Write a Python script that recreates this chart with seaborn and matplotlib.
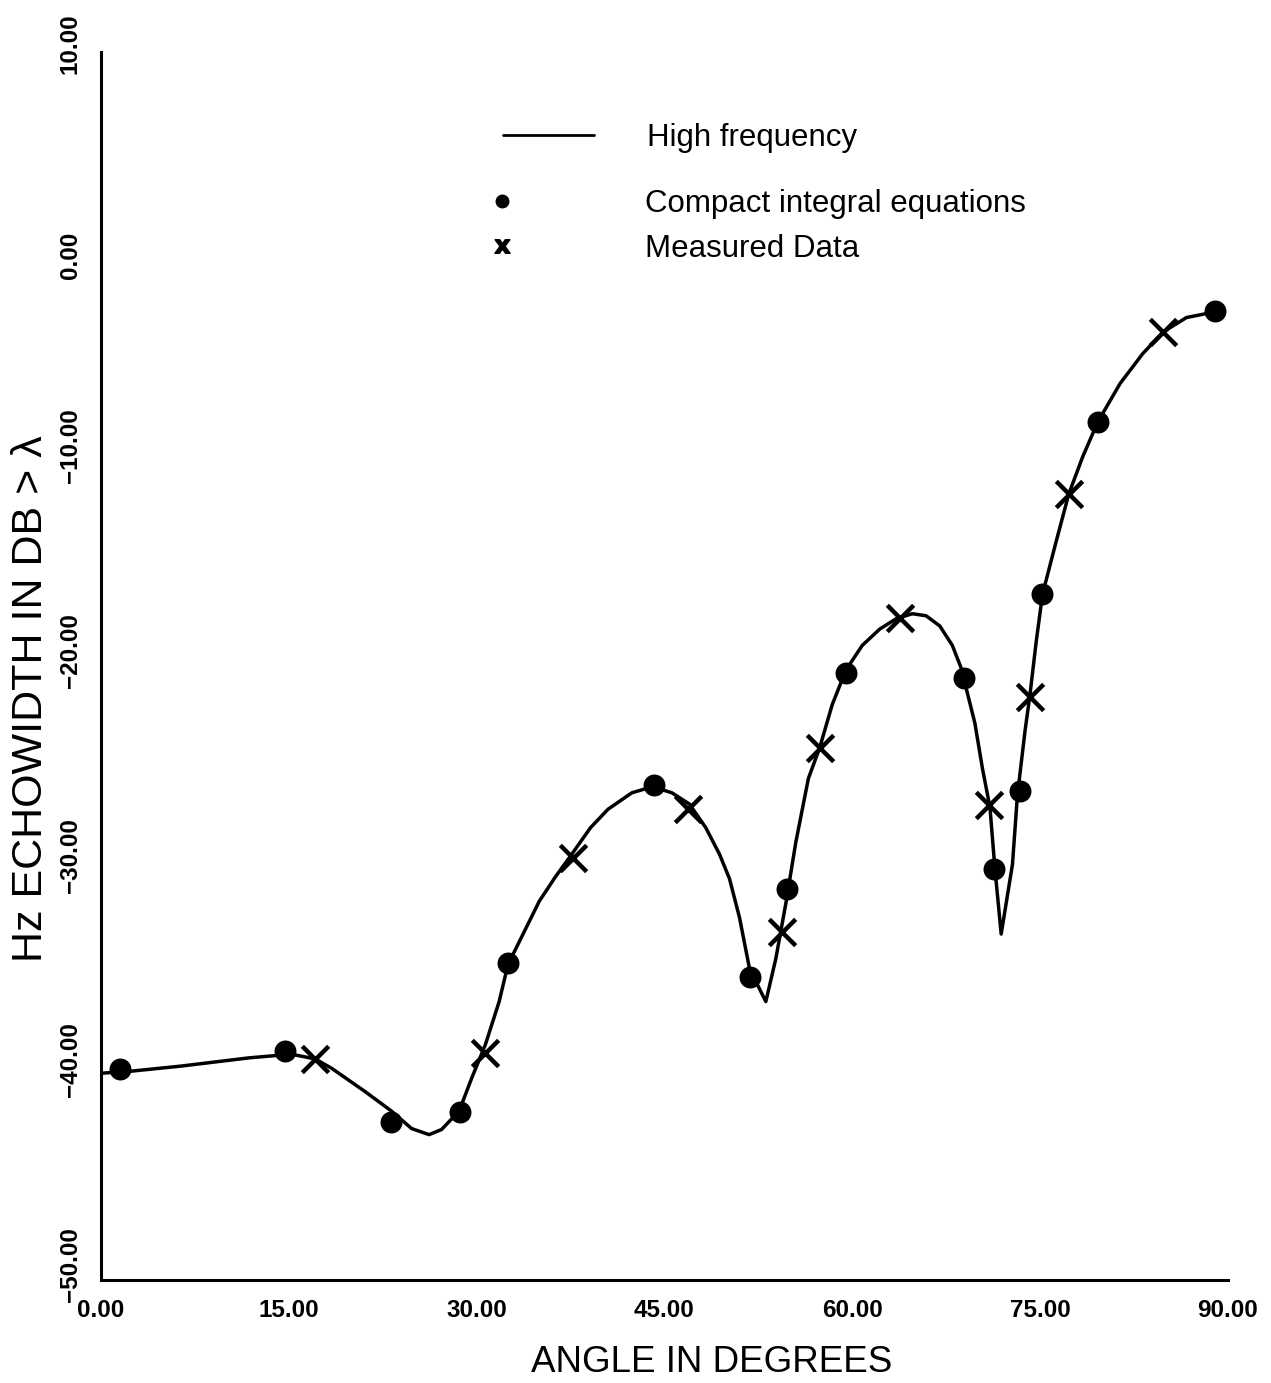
import matplotlib
matplotlib.use("Agg")
import matplotlib.pyplot as plt
from matplotlib.lines import Line2D
from matplotlib.transforms import ScaledTranslation
import seaborn as sns
import pandas as pd

# ---- data ----
hf_angle = [0, 2.4, 6.4, 11.8, 15.2, 17.1, 18.4, 21.1, 23.2, 24.8, 26.2, 27.2, 28.6,
            29.6, 30.7, 31.8, 32.5, 35.0, 36.3, 37.6, 39.1, 40.5, 42.4, 43.5, 44.3,
            45.6, 47.0, 48.3, 49.4, 50.2, 51.0, 51.8, 53.1, 53.9, 54.7, 55.5, 56.5,
            57.4, 58.4, 59.5, 60.8, 62.2, 63.5, 64.8, 65.9, 67.0, 68.0, 68.7, 69.8,
            70.4, 71.0, 71.4, 71.9, 72.8, 73.2, 73.8, 74.2, 74.7, 75.2, 76.3, 77.3,
            78.4, 79.6, 81.4, 83.2, 84.8, 86.7, 89.0]
hf_db = [-39.9, -39.8, -39.55, -39.15, -38.97, -39.2, -39.65, -40.8, -41.75, -42.6,
         -42.9, -42.65, -41.75, -40.15, -38.5, -36.4, -34.6, -31.5, -30.3, -29.2,
         -27.9, -27.0, -26.2, -26.0, -25.95, -26.2, -26.75, -27.9, -29.2, -30.4,
         -32.3, -34.8, -36.4, -34.3, -31.6, -28.6, -25.5, -24.0, -21.9, -20.2,
         -19.0, -18.2, -17.7, -17.45, -17.55, -18.05, -19.0, -20.1, -22.8, -25.0,
         -26.9, -29.9, -33.1, -29.7, -26.3, -23.2, -21.4, -18.8, -16.5, -13.9,
         -11.6, -9.8, -8.1, -6.2, -4.75, -3.7, -2.98, -2.7]

cie_angle = [1.5, 14.7, 23.2, 28.7, 32.5, 44.2, 51.8, 54.8, 59.5, 68.9, 71.3, 73.4,
             75.2, 79.6, 89.0]
cie_db = [-39.7, -38.8, -42.3, -41.8, -34.5, -25.8, -35.2, -30.9, -20.35, -20.6,
          -29.9, -26.1, -16.5, -8.1, -2.65]

meas_angle = [17.1, 30.7, 37.7, 46.9, 54.4, 57.4, 63.8, 70.9, 74.2, 77.3, 84.8]
meas_db = [-39.2, -38.9, -29.4, -27.0, -33.0, -24.0, -17.65, -26.8, -21.5, -11.6, -3.7]

x_ticks_major = [0, 15, 30, 45, 60, 75, 90]
y_ticks_major = [-50, -40, -30, -20, -10, 0, 10]

legend_labels = ["High frequency", "Compact integral equations", "Measured Data"]


def fmt(v):
    return f"{v:.2f}".replace("-", "\u2212")


# ---- style ----
sns.set_theme(style="white")
plt.rcParams['font.family'] = ['Liberation Sans', 'DejaVu Sans']

fig = plt.figure(figsize=(12.71, 13.83), dpi=100)
ax = fig.add_axes([0.0795, 0.0745, 0.8865, 0.888])

hf = pd.DataFrame({"angle": hf_angle, "db": hf_db})
cie = pd.DataFrame({"angle": cie_angle, "db": cie_db})
meas = pd.DataFrame({"angle": meas_angle, "db": meas_db})

sns.lineplot(data=hf, x="angle", y="db", sort=False, estimator=None, color="black",
             linewidth=2.5, ax=ax)
sns.scatterplot(data=cie, x="angle", y="db", marker="o", s=250, color="black",
                edgecolor="black", linewidth=0, ax=ax, zorder=3)
sns.scatterplot(data=meas, x="angle", y="db", marker="x", s=360, color="black",
                linewidth=3.2, ax=ax, zorder=3)

ax.set_xlim(0, 90)
ax.set_ylim(-50, 10)

for s in ["top", "right"]:
    ax.spines[s].set_visible(False)
for s in ["left", "bottom"]:
    ax.spines[s].set_linewidth(2.2)
    ax.spines[s].set_color("black")

xt = [i * 7.5 for i in range(13)]
yt = [-50 + 5 * i for i in range(13)]
ax.set_xticks(xt)
ax.set_xticklabels([fmt(v) if v in x_ticks_major else "" for v in xt], fontweight="bold")
ax.set_yticks(yt)
ax.set_yticklabels([fmt(v) if v in y_ticks_major else "" for v in yt],
                   rotation=90, va="bottom", fontweight="bold")
ax.tick_params(axis="both", direction="inout", length=13, width=2.0, color="black",
               labelsize=17.5, labelcolor="black")
ax.tick_params(axis="x", pad=7)
ax.tick_params(axis="y", pad=7.5)
shift = ScaledTranslation(0, -0.22, fig.dpi_scale_trans)
for lab in ax.get_yticklabels():
    lab.set_transform(lab.get_transform() + shift)

ax.set_xlabel("ANGLE IN DEGREES", fontsize=26.5, color="black")
ax.set_ylabel("Hz ECHOWIDTH IN DB > λ", fontsize=31, color="black")
ax.xaxis.set_label_coords(0.542, -0.053)
ax.yaxis.set_label_coords(-0.044, 0.473)

# legend (two groups to mimic the reference spacing)
h_line = [Line2D([0], [0], color="black", linewidth=2.0)]
leg1 = ax.legend(h_line, legend_labels[:1], loc="upper left",
                 bbox_to_anchor=(0.332, 0.965), frameon=False,
                 handlelength=2.9, handletextpad=1.7, labelcolor="black",
                 prop={"family": "Liberation Sans", "size": 22.5})
ax.add_artist(leg1)
h_mark = [Line2D([0], [0], color="black", marker="o", linestyle="none", markersize=9),
          Line2D([0], [0], color="black", marker="$\\mathbf{x}$", linestyle="none", markersize=11)]
leg2 = ax.legend(h_mark, legend_labels[1:], loc="upper left",
                 bbox_to_anchor=(0.317, 0.9115), frameon=False,
                 handlelength=1.0, handletextpad=4.08, labelspacing=0.48,
                 labelcolor="black",
                 prop={"family": "Liberation Sans", "size": 22.5})

fig.savefig("out.png", dpi=100, facecolor="white")
